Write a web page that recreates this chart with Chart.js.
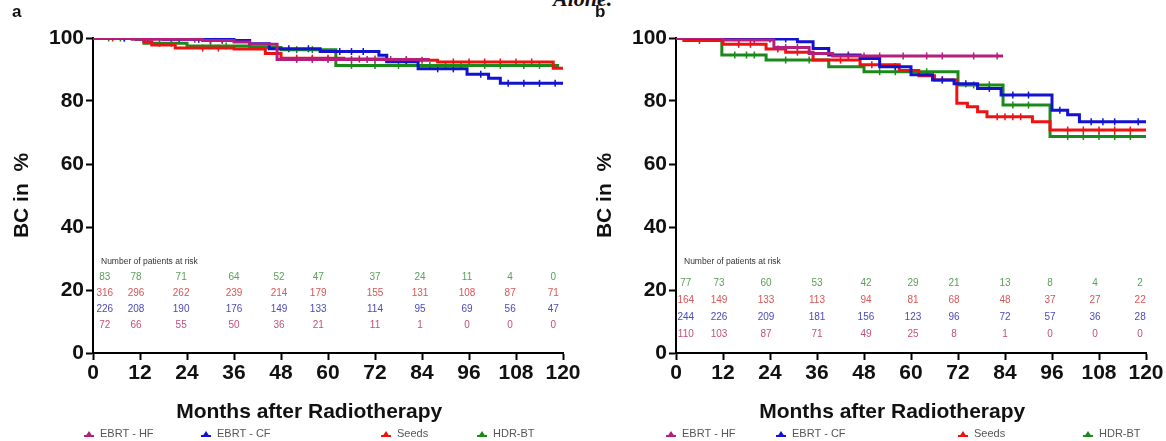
<!DOCTYPE html>
<html lang="en">
<head>
    <meta charset="UTF-8">
    <title>BC after radiotherapy</title>
    <script src="https://cdn.jsdelivr.net/npm/chart.js@4.4.1/dist/chart.umd.min.js"></script>
    <style>
        body { margin: 0; background: #fff; width: 1166px; height: 441px; overflow: hidden; position: relative; }
        .panel { position: absolute; top: 0; width: 583px; height: 441px; }
        #headline { position: absolute; left: 553px; top: -14px; font: italic bold 22px "Liberation Serif", serif; color: #111; }
    </style>
</head>
<body>
    <div id="headline">Alone.</div>
    <div class="panel" style="left:0"><canvas id="chartA" width="583" height="441"></canvas></div>
    <div class="panel" style="left:583px"><canvas id="chartB" width="583" height="441"></canvas></div>

    <script>
        const groups = ['EBRT - HF', 'EBRT - CF', 'Seeds', 'HDR-BT'];
        const groupColors = ['#b51f7c', '#1212cf', '#ee1212', '#1b8a1b'];
        const riskColors = ['#c0507e', '#4a4ab8', '#d85656', '#5aa05a'];
        const xTicks = [0, 12, 24, 36, 48, 60, 72, 84, 96, 108, 120];
        const yTicks = [0, 20, 40, 60, 80, 100];

        // step curves, [month, BC %]
        const aHF = [[0,100],[10,99.6],[28,99.2],[36,98.7],[40,98.0],[47,93.2],[86,93.2]];
        const aCF = [[0,100],[18,99.6],[36,99.2],[40,98.2],[45,96.6],[58,95.7],[73,94.5],[75,92.5],[83,90.2],[95.5,88.5],[101,87.2],[104,85.6],[120,85.6]];
        const aSeeds = [[0,100],[13,98.8],[15,97.8],[21,96.8],[36,96.5],[44,95.1],[48,93.6],[64,93.3],[75,92.9],[88,92.4],[117.5,90.4],[120,90.4]];
        const aHDR = [[0,100],[11,99.5],[13,98.3],[24,97.5],[40,97.0],[48,96.3],[62,91.3],[119,91.3]];

        const bHF = [[0,100],[12,99.4],[25,97.0],[34,95.1],[40,94.3],[83.5,94.3]];
        const bCF = [[0,100],[13,99.7],[31,98.8],[35,96.7],[39,94.6],[47,93.5],[52,90.9],[60,88.3],[65.5,86.7],[71,85.5],[77,84.0],[83,81.9],[96,77.1],[100,75.6],[103,73.4],[120,73.4]];
        const bSeeds = [[0,100],[2,99.2],[12,98.0],[23,96.5],[28,95.5],[35,93.0],[47,91.5],[57,89.7],[62,88.0],[66,86.7],[71.7,79.3],[74.4,78.2],[77,76.6],[79.4,75.0],[91,73.4],[95.5,70.8],[120,70.8]];
        const bHDR = [[0,100],[11.7,94.6],[23,93.0],[39,90.9],[48,89.3],[72,85.1],[83.5,78.7],[95.5,68.7],[120,68.7]];

        // censoring times (months), tick marks on the curves
        const aHFCens = [20, 26, 30, 33, 52, 56, 60, 66, 70, 76, 80];
        const aCFCens = [8, 14, 22, 27, 30, 33, 50, 55, 63, 66, 69, 80, 88, 92, 99, 106, 110, 114, 118];
        const aSeedsCens = [5, 8, 28, 32, 52, 56, 60, 68, 72, 80, 84, 92, 96, 100, 104, 108, 112];
        const aHDRCens = [4, 7, 17, 20, 30, 34, 52, 56, 66, 72, 78, 86, 90, 94, 100, 104, 110, 114];
        const bHFCens = [8, 16, 20, 28, 31, 44, 48, 52, 58, 64, 68, 76, 82];
        const bCFCens = [4, 8, 16, 20, 24, 28, 44, 56, 68, 74, 80, 86, 90, 98, 106, 109, 112, 118];
        const bSeedsCens = [6, 16, 19, 26, 31, 42, 50, 60, 68, 82, 84, 86, 88, 100, 104, 108, 112, 116];
        const bHDRCens = [4, 8, 15, 18, 20, 28, 34, 52, 56, 64, 76, 80, 86, 90, 100, 104, 108, 112, 116];

        // number of patients at risk (rows top to bottom: HDR-BT, Seeds, EBRT-CF, EBRT-HF)
        const riskMonthsA = [3, 11, 22.5, 36, 47.5, 57.5, 72, 83.5, 95.5, 106.5, 117.5];
        const riskMonthsB = [2.5, 11, 23, 36, 48.5, 60.5, 71, 84, 95.5, 107, 118.5];
        const riskA = {
            hdr: [83, 78, 71, 64, 52, 47, 37, 24, 11, 4, 0],
            seeds: [316, 296, 262, 239, 214, 179, 155, 131, 108, 87, 71],
            cf: [226, 208, 190, 176, 149, 133, 114, 95, 69, 56, 47],
            hf: [72, 66, 55, 50, 36, 21, 11, 1, 0, 0, 0]
        };
        const riskB = {
            hdr: [77, 73, 60, 53, 42, 29, 21, 13, 8, 4, 2],
            seeds: [164, 149, 133, 113, 94, 81, 68, 48, 37, 27, 22],
            cf: [244, 226, 209, 181, 156, 123, 96, 72, 57, 36, 28],
            hf: [110, 103, 87, 71, 49, 25, 8, 1, 0, 0, 0]
        };

        const FONT = '"Liberation Sans", Arial, sans-serif';

        // draws the at-risk table, x title, legend and panel letter
        const kmExtras = {
            id: 'kmExtras',
            afterDraw(chart, args, opts) {
                const ctx = chart.ctx;
                const xs = chart.scales.x;
                const area = chart.chartArea;
                ctx.save();

                ctx.fillStyle = '#111';
                ctx.font = 'bold 17px ' + FONT;
                ctx.textBaseline = 'middle';
                ctx.textAlign = 'left';
                ctx.fillText(opts.letter, 12, 12);

                ctx.font = '8.5px ' + FONT;
                ctx.fillStyle = '#333';
                ctx.fillText('Number of patients at risk', area.left + 8, opts.headerY);

                ctx.font = '10px ' + FONT;
                ctx.textAlign = 'center';
                const rows = [opts.risk.hdr, opts.risk.seeds, opts.risk.cf, opts.risk.hf];
                const rowColors = [riskColors[3], riskColors[2], riskColors[1], riskColors[0]];
                rows.forEach((row, r) => {
                    ctx.fillStyle = rowColors[r];
                    row.forEach((n, i) => {
                        ctx.fillText(String(n), xs.getPixelForValue(opts.riskMonths[i]), opts.rowY[r]);
                    });
                });

                ctx.fillStyle = '#111';
                ctx.font = 'bold 21px ' + FONT;
                ctx.fillText('Months after Radiotherapy', area.left + area.width * 0.46, 412);

                ctx.font = '11px ' + FONT;
                ctx.textAlign = 'left';
                groups.forEach((g, i) => {
                    const x = opts.legendX[i];
                    const y = 434;
                    ctx.strokeStyle = groupColors[i];
                    ctx.lineWidth = 2;
                    ctx.beginPath();
                    ctx.moveTo(x - 5, y + 2);
                    ctx.lineTo(x + 5, y + 2);
                    ctx.stroke();
                    ctx.fillStyle = groupColors[i];
                    ctx.beginPath();
                    ctx.moveTo(x - 4, y + 3);
                    ctx.lineTo(x, y - 3);
                    ctx.lineTo(x + 4, y + 3);
                    ctx.closePath();
                    ctx.fill();
                    ctx.fillStyle = '#555';
                    ctx.fillText(g, x + 11, y);
                });
                ctx.restore();
            }
        };

        function toXY(arr) {
            return arr.map(p => ({ x: p[0], y: p[1] }));
        }

        // value of a step curve at month t
        function stepAt(curve, t) {
            let v = curve[0][1];
            curve.forEach(p => { if (p[0] <= t) v = p[1]; });
            return v;
        }

        function makeChart(id, curves, censors, extras) {
            const ctx = document.getElementById(id).getContext('2d');
            const lines = curves.map((c, i) => ({
                label: groups[i],
                data: toXY(c),
                borderColor: groupColors[i],
                backgroundColor: groupColors[i],
                borderWidth: 3,
                stepped: true,
                pointRadius: 0,
                fill: false
            }));
            const ticks = censors.map((cs, i) => ({
                label: groups[i] + ' censored',
                data: cs.map(t => ({ x: t, y: stepAt(curves[i], t) })),
                showLine: false,
                borderColor: groupColors[i],
                backgroundColor: groupColors[i],
                pointStyle: 'line',
                rotation: 90,
                pointRadius: 3.5,
                pointBorderWidth: 1.5
            }));
            return new Chart(ctx, {
                type: 'line',
                data: { datasets: lines.concat(ticks) },
                options: {
                    responsive: false,
                    animation: false,
                    layout: { padding: { left: 0, right: 20, top: 38, bottom: 0 } },
                    plugins: {
                        legend: { display: false },
                        tooltip: { enabled: false },
                        kmExtras: extras
                    },
                    scales: {
                        x: {
                            type: 'linear',
                            min: 0,
                            max: 120,
                            afterFit: s => { s.height = 88; },
                            afterBuildTicks: s => { s.ticks = xTicks.map(v => ({ value: v })); },
                            ticks: { autoSkip: false, maxRotation: 0, padding: 1, color: '#111', font: { family: FONT, size: 21, weight: 'bold' } },
                            grid: { drawOnChartArea: false, tickLength: 7, tickColor: '#000', tickWidth: 2 },
                            border: { color: '#000', width: 2 }
                        },
                        y: {
                            min: 0,
                            max: 100,
                            afterFit: s => { s.width = 93; },
                            afterBuildTicks: s => { s.ticks = yTicks.map(v => ({ value: v })); },
                            ticks: { padding: 2, color: '#111', font: { family: FONT, size: 21, weight: 'bold' } },
                            grid: { drawOnChartArea: false, tickLength: 7, tickColor: '#000', tickWidth: 2 },
                            border: { color: '#000', width: 2 },
                            title: { display: true, text: 'BC in  %', color: '#111', padding: { top: 10, bottom: 0 }, font: { family: FONT, size: 21, weight: 'bold' } }
                        }
                    }
                },
                plugins: [kmExtras]
            });
        }

        makeChart('chartA', [aHF, aCF, aSeeds, aHDR], [aHFCens, aCFCens, aSeedsCens, aHDRCens], {
            letter: 'a',
            risk: riskA,
            riskMonths: riskMonthsA,
            headerY: 262,
            rowY: [277, 293, 309, 325],
            legendX: [89, 206, 386, 482]
        });
        makeChart('chartB', [bHF, bCF, bSeeds, bHDR], [bHFCens, bCFCens, bSeedsCens, bHDRCens], {
            letter: 'b',
            risk: riskB,
            riskMonths: riskMonthsB,
            headerY: 262,
            rowY: [283, 300, 317, 334],
            legendX: [88, 198, 380, 505]
        });
    </script>
</body>
</html>
